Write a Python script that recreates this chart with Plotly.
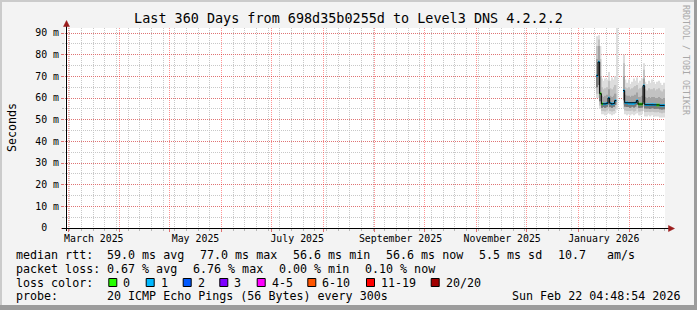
import plotly.graph_objects as go
from datetime import datetime, timedelta

# ---------------- data ----------------
TITLE = "Last 360 Days from 698d35b0255d to Level3 DNS 4.2.2.2"
RANGE_START = datetime(2025, 2, 27, 4, 48, 54)
RANGE_END = datetime(2026, 2, 22, 4, 48, 54)

month_label_dates = ["2025-03-16 12:00", "2025-05-16 12:00", "2025-07-16 12:00",
                     "2025-09-16 12:00", "2025-11-16 12:00", "2026-01-16 12:00"]
month_labels = ["March 2025", "May 2025", "July 2025",
                "September 2025", "November 2025", "January 2026"]

y_tick_values = [0, 0.01, 0.02, 0.03, 0.04, 0.05, 0.06, 0.07, 0.08, 0.09]
y_tick_labels = ["0\u00a0\u00a0", "10 m", "20 m", "30 m", "40 m", "50 m", "60 m", "70 m", "80 m", "90 m"]

# one value per day, starting 2026-01-12 (None = no data)
first_day = "2026-01-12"
median_ms = [70.3, 76.6, 62.0, 57.3, 57.2, 57.3, 57.6, 60.0, 57.6, 57.2, 57.5, 58.8,
             None, None, None, None,
             63.4, 57.8, 57.8, 57.5, 57.5, 57.5, 57.5, 57.8, 58.8, 57.2, 57.2, 57.2, 65.7,
             56.9, 56.9, 56.9, 56.9, 57.0, 56.9, 56.9, 56.8, 56.8, 56.6, 56.5, 56.6]
loss_pings = [1, 1, 0, 0, 1, 1, 1, 1, 1, 1, 1, 1,
              None, None, None, None,
              1, 1, 1, 1, 1, 1, 1, 1, 1, 0, 0, 0, 1,
              1, 1, 1, 1, 1, 1, 1, 0, 0, 1, 1, 1]
smoke_min_ms = [60, 60, 55, 52.5, 52.5, 52, 52.5, 53, 52.5, 52, 52.5, 53,
                54.6, None, None, None,
                55, 52.5, 52, 52.5, 52, 52.5, 52, 52.5, 53, 52, 52, 52.5, 54,
                51.5, 51.5, 52, 51.5, 52, 51.5, 51.5, 51.5, 51.5, 51, 51, 51]
smoke_p10_ms = [62, 62, 56.5, 54, 54, 53.8, 54.2, 55, 54, 53.8, 54, 55,
                None, None, None, None,
                57, 54.2, 54, 54, 54, 54.2, 53.8, 54, 55, 53.8, 53.8, 54, 56,
                53.5, 53.5, 53.6, 53.5, 53.7, 53.5, 53.4, 53.4, 53.5, 53.2, 53, 53.2]
smoke_p25_ms = [65, 66, 58.5, 55.5, 55.8, 55.5, 56, 57, 55.8, 55.5, 56, 56.8,
                None, None, None, None,
                59, 56, 55.8, 55.8, 55.5, 56, 55.6, 56, 56.8, 55.5, 55.5, 55.6, 58,
                55.2, 55.2, 55.2, 55, 55.3, 55.2, 55, 55, 55, 54.8, 54.7, 54.8]
smoke_p75_ms = [78, 84, 70, 61, 60.5, 61, 61.5, 64, 61, 60.5, 61, 62,
                None, None, None, None,
                70, 61.5, 61, 61, 60.5, 61, 61, 61.5, 62.5, 60.5, 60.5, 61, 69,
                60.5, 60, 60.5, 60, 60.5, 60.5, 60, 60, 60.5, 60, 59.5, 60]
smoke_p90_ms = [84, 87, 78, 65, 64, 64.5, 65, 68, 64.5, 64, 65, 66,
                None, None, None, None,
                76, 65, 64.5, 65, 64, 64.5, 65, 65.5, 66, 64, 64.5, 65, 73,
                64, 63.5, 64.5, 64, 64, 64.5, 63.5, 64, 64.5, 63.5, 63, 64]
smoke_max_ms = [88.5, 89, 84, 69, 68, 69, 68.5, 72, 68, 69.5, 68.5, 70,
                120, None, None, None,
                80, 68.5, 67, 68.5, 66.5, 67.5, 69, 68, 69.5, 67, 68, 69, 76,
                67.5, 66.5, 68, 67, 68.5, 67.5, 66.5, 67.5, 68, 67, 66, 67]

loss_classes = ["0", "1", "2", "3", "4-5", "6-10", "11-19", "20/20"]
loss_colors = ["#26ff00", "#00b8ff", "#0059ff", "#7e00ff", "#ff00ff", "#ff5500", "#ff0000", "#a10000"]

legend_row1 = [("median rtt:", 16), ("59.0 ms avg", 107.3), ("77.0 ms max", 200),
               ("56.6 ms min", 293.3), ("56.6 ms now", 386), ("5.5 ms sd", 479.3),
               ("10.7", 558.3), ("am/s", 606.7)]
legend_row2 = [("packet loss:", 16), ("0.67 % avg", 107.3), ("6.76 % max", 193.3),
               ("0.00 % min", 279.3), ("0.10 % now", 365.3)]
legend_row3_label = ("loss color:", 16)
loss_box_x = [108.3, 145.7, 182.7, 219.3, 256.7, 307.3, 366, 430.7]
legend_row4 = [("probe:", 16), ("20 ICMP Echo Pings (56 Bytes) every 300s", 107.3)]
timestamp_text = "Sun Feb 22 04:48:54 2026"
watermark = "RRDTOOL / TOBI OETIKER"

# ---------------- geometry helpers ----------------
L, T, W, H = 65, 28, 600, 200
FW, FH = 697, 310
MONO = "DejaVu Sans Mono"


def X(px):
    return (px - L) / W


def Y(py):
    return (T + H - py) / H


n = len(median_ms)
for arr in (loss_pings, smoke_min_ms, smoke_p10_ms, smoke_p25_ms, smoke_p75_ms, smoke_p90_ms, smoke_max_ms):
    assert len(arr) == n
d0 = datetime.fromisoformat(first_day)
day_start = [d0 + timedelta(days=i) for i in range(n)]
DAY_MS = 86400000

fig = go.Figure()


def band(lo, hi, color):
    xs, base, h = [], [], []
    for i in range(n):
        a, b = lo[i], hi[i]
        if a is None or b is None:
            continue
        xs.append(day_start[i] + timedelta(hours=12))
        base.append(a / 1000.0)
        h.append((b - a) / 1000.0)
    fig.add_trace(go.Bar(x=xs, y=h, base=base, width=DAY_MS,
                         marker=dict(color=color, line=dict(width=0)),
                         hoverinfo="skip", showlegend=False))


band(smoke_min_ms, smoke_max_ms, "#dddddd")
band(smoke_p10_ms, smoke_p90_ms, "#c2c2c2")
band(smoke_p25_ms, smoke_p75_ms, "#a2a2a2")
band(smoke_p25_ms, median_ms, "#7a7a7a")

# black median step line
lx, ly = [], []
prev = False
for i in range(n):
    m = median_ms[i]
    if m is None:
        if prev:
            lx.append(None)
            ly.append(None)
        prev = False
        continue
    lx += [day_start[i], day_start[i] + timedelta(days=1)]
    ly += [m / 1000.0, m / 1000.0]
    prev = True
fig.add_trace(go.Scatter(x=lx, y=ly, mode="lines", line=dict(color="#000000", width=1),
                         hoverinfo="skip", showlegend=False, xaxis="x2"))

# coloured median segments by loss
for k, col in enumerate(loss_colors):
    sx, sy = [], []
    for i in range(n):
        if median_ms[i] is None or loss_pings[i] != k:
            continue
        sx += [day_start[i], day_start[i] + timedelta(days=1), None]
        sy += [median_ms[i] / 1000.0, median_ms[i] / 1000.0, None]
    if sx:
        fig.add_trace(go.Scatter(x=sx, y=sy, mode="lines", line=dict(color=col, width=2.5),
                                 hoverinfo="skip", showlegend=False))

RED_GRID = "rgba(255,0,0,0.42)"
GRAY_GRID = "#c8c8c8"

fig.update_layout(
    width=FW, height=FH, autosize=False,
    margin=dict(l=L, r=FW - L - W, t=T, b=FH - T - H, pad=0),
    paper_bgcolor="#f3f3f3", plot_bgcolor="#ffffff",
    barmode="overlay", showlegend=False,
    font=dict(family=MONO, color="#000000"),
    title=dict(text=TITLE, x=0.5, xref="container", xanchor="center",
               y=1 - 18.5 / FH, yref="container", yanchor="middle",
               font=dict(family=MONO, size=13.45, color="#000000")),
    xaxis=dict(type="date", range=[RANGE_START, RANGE_END],
               tick0="2025-03-01", dtick="M1", showticklabels=False,
               ticks="outside", ticklen=3, tickcolor="#e07070",
               showgrid=True, gridcolor=RED_GRID, griddash="1px,1px", gridwidth=1,
               zeroline=False, showline=False,
               minor=dict(tick0="2025-03-02", dtick=7 * DAY_MS, showgrid=True,
                          gridcolor=GRAY_GRID, griddash="1px,1px",
                          ticks="outside", ticklen=2, tickcolor="#b8b8b8")),
    xaxis2=dict(type="date", overlaying="x", matches="x", anchor="y", side="bottom",
                tickmode="array", tickvals=month_label_dates, ticktext=month_labels,
                showgrid=False, ticks="", zeroline=False, showline=False,
                ticklabelstandoff=3,
                tickfont=dict(family=MONO, size=9.9, color="#000000")),
    yaxis=dict(range=[0, H / (195 / 90) / 1000.0], tickmode="array",
               tickvals=y_tick_values, ticktext=y_tick_labels,
               showgrid=True, gridcolor=RED_GRID, griddash="1px,1px", gridwidth=1,
               ticks="outside", ticklen=3, tickcolor="#e07070",
               zeroline=False, showline=False,
               tickfont=dict(family=MONO, size=9.9, color="#000000"),
               minor=dict(tickmode="linear", tick0=0, dtick=0.005, showgrid=True,
                          gridcolor=GRAY_GRID, griddash="1px,1px",
                          ticks="outside", ticklen=2, tickcolor="#b8b8b8")),
)

shapes = []
# frame
shapes.append(dict(type="rect", xref="paper", yref="paper", x0=X(0), x1=X(FW), y0=Y(FH), y1=Y(FH - 5),
                   fillcolor="#9c9c9c", line=dict(width=0), layer="below"))
shapes.append(dict(type="rect", xref="paper", yref="paper", x0=X(FW - 3), x1=X(FW), y0=Y(FH), y1=Y(0),
                   fillcolor="#9c9c9c", line=dict(width=0), layer="below"))
shapes.append(dict(type="rect", xref="paper", yref="paper", x0=X(0), x1=X(FW - 3), y0=Y(2), y1=Y(0),
                   fillcolor="#cbcbcb", line=dict(width=0), layer="below"))
shapes.append(dict(type="rect", xref="paper", yref="paper", x0=X(0), x1=X(2), y0=Y(FH - 5), y1=Y(0),
                   fillcolor="#cbcbcb", line=dict(width=0), layer="below"))
# axes
shapes.append(dict(type="line", xref="paper", yref="paper", x0=X(62), x1=X(669), y0=Y(228.5), y1=Y(228.5),
                   line=dict(color="#000000", width=1)))
shapes.append(dict(type="line", xref="paper", yref="paper", x0=X(66.5), x1=X(66.5), y0=Y(231), y1=Y(25),
                   line=dict(color="#000000", width=1)))
ARROW = "#9b1c1c"
shapes.append(dict(type="path", xref="paper", yref="paper",
                   path=f"M {X(66.5)} {Y(20.5)} L {X(63.5)} {Y(26.5)} L {X(69.5)} {Y(26.5)} Z",
                   fillcolor=ARROW, line=dict(color=ARROW, width=0.5)))
shapes.append(dict(type="path", xref="paper", yref="paper",
                   path=f"M {X(674.5)} {Y(228.5)} L {X(668.5)} {Y(225.5)} L {X(668.5)} {Y(231.5)} Z",
                   fillcolor=ARROW, line=dict(color=ARROW, width=0.5)))
# loss colour boxes
for bx, col in zip(loss_box_x, loss_colors):
    shapes.append(dict(type="rect", xref="paper", yref="paper",
                       x0=X(bx + 0.5), x1=X(bx + 8.5), y0=Y(286.5), y1=Y(278.5),
                       fillcolor=col, line=dict(color="#000000", width=1)))

annotations = []


def txt(s, px, py, size=11.66, anchor="left", color="#000000", angle=0):
    annotations.append(dict(text=s, x=X(px), y=Y(py), xref="paper", yref="paper",
                            xanchor=anchor, yanchor="middle", showarrow=False,
                            borderpad=0, borderwidth=0, textangle=angle,
                            font=dict(family=MONO, size=size, color=color)))


for s, px in legend_row1:
    txt(s, px, 254.5)
for s, px in legend_row2:
    txt(s, px, 268.5)
txt(legend_row3_label[0], legend_row3_label[1], 282.5)
for bx, lab in zip(loss_box_x, loss_classes):
    txt(lab, bx + 15, 282.5)
for s, px in legend_row4:
    txt(s, px, 296)
txt(timestamp_text, 680, 296, anchor="right")
txt("Seconds", 12, 128, anchor="center", angle=-90)
annotations.append(dict(text=watermark, x=X(686), y=Y(60), xref="paper", yref="paper",
                        xanchor="center", yanchor="middle", showarrow=False, textangle=90,
                        borderpad=0, borderwidth=0,
                        font=dict(family=MONO, size=8.3, color="#a8a8a8")))

fig.update_layout(shapes=shapes, annotations=annotations)
fig.write_html("out.html")
